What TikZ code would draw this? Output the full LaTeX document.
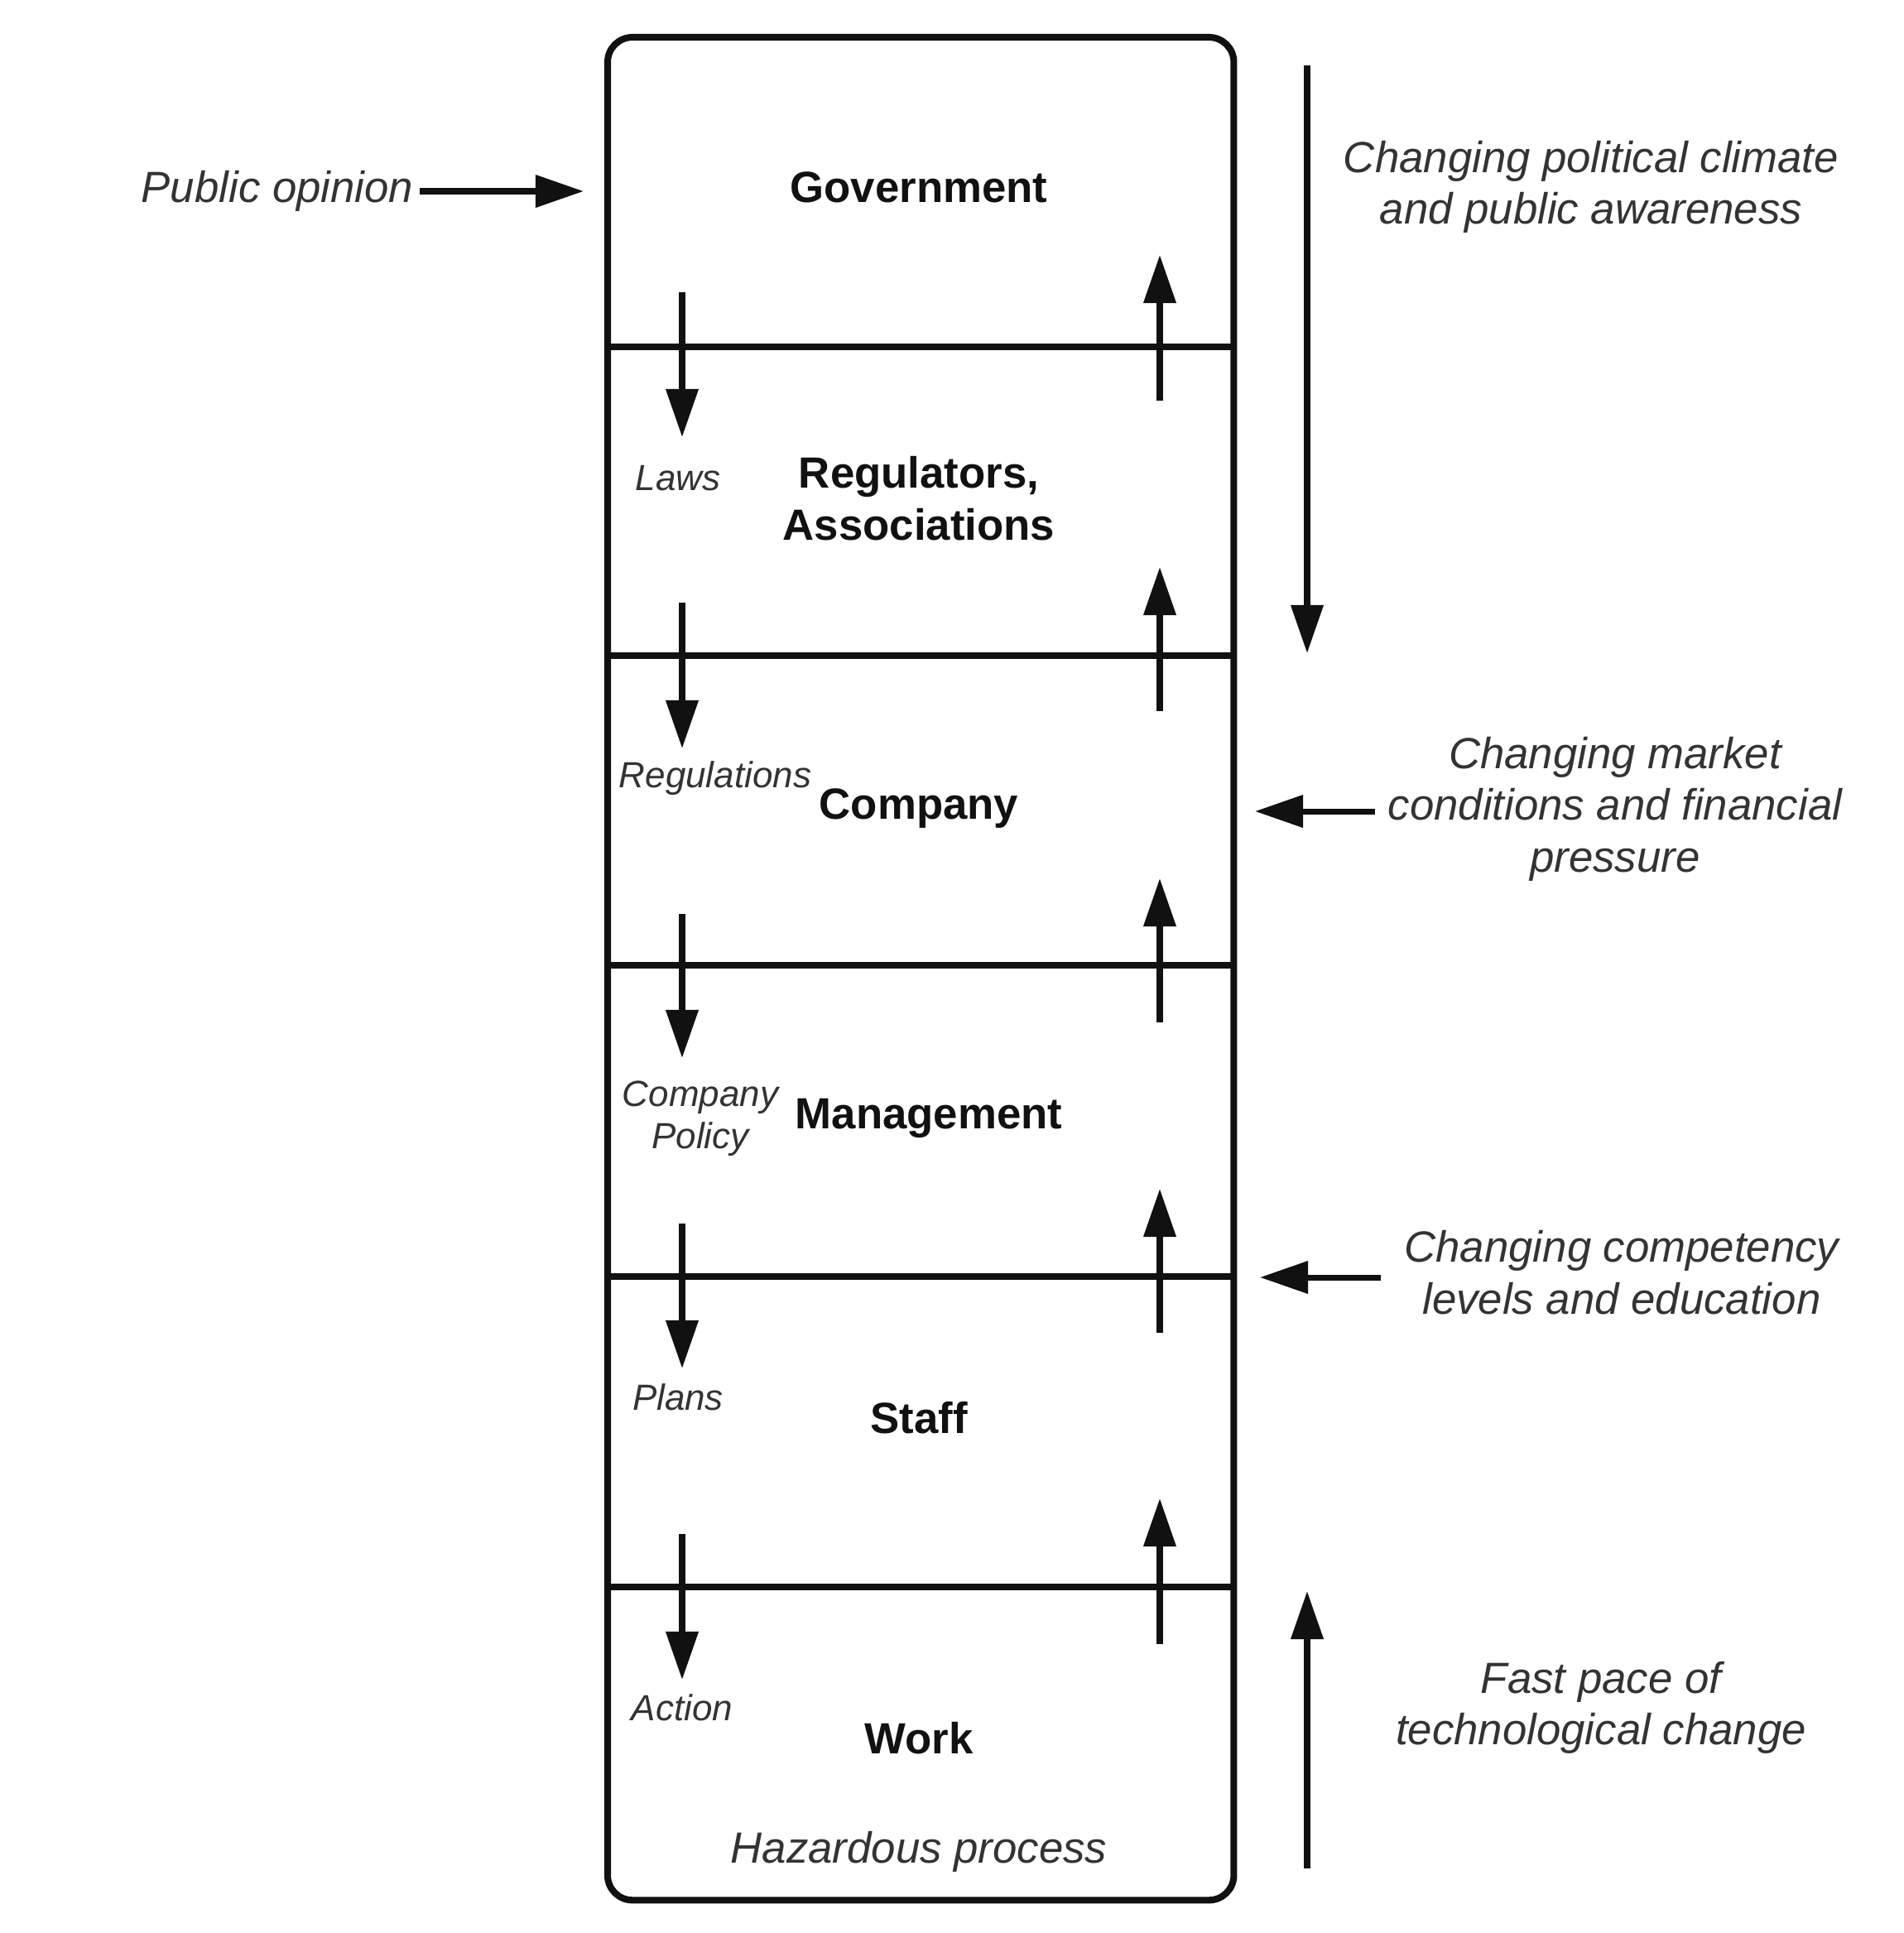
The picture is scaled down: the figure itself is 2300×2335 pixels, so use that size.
\documentclass[tikz,border=0pt]{standalone}
\usepackage{fontspec}
\setmainfont{Liberation Sans}
\usetikzlibrary{arrows.meta}
\definecolor{lbl}{HTML}{333333}
\definecolor{ink}{HTML}{111111}
\begin{document}
\begin{tikzpicture}[x=0.01cm,y=-0.01cm,
  layer/.style={font=\fontsize{15}{17.8}\selectfont\bfseries, align=center, text=ink},
  side/.style={font=\fontsize{15}{17.8}\selectfont\itshape, align=center, text=lbl},
  small/.style={font=\fontsize{12.5}{14.5}\selectfont\itshape, align=center, text=lbl},
  arr/.style={line width=2pt, draw=ink, -{Triangle[length=0.58cm,width=0.38cm]}},
  frame/.style={line width=2.3pt, draw=ink}]
\useasboundingbox (0,0) rectangle (2300,2335);
\fill[white] (0,0) rectangle (2300,2335);

% outer box
\node[frame, rounded corners=0.3cm, minimum width=7.56cm, minimum height=22.49cm,
      anchor=north west, inner sep=0pt, outer sep=0pt] (box) at (734,45) {};

% dividers
\foreach \y [count=\i] in {419,792,1166,1542,1917} {
  \coordinate (dl\i) at (734,\y);
  \coordinate (dr\i) at (1490,\y);
  \draw[frame] (dl\i) -- (dr\i);
}

% downward arrows (left column)
\foreach \a/\b [count=\i] in {353/528,728/904,1104/1278,1478/1653,1853/2029} {
  \coordinate (ds\i) at (824,\a);
  \coordinate (de\i) at (824,\b);
  \draw[arr] (ds\i) -- (de\i);
}
% upward arrows (right column)
\foreach \a/\b [count=\i] in {484/308,859/685,1235/1061,1610/1436,1986/1810} {
  \coordinate (us\i) at (1401,\a);
  \coordinate (ue\i) at (1401,\b);
  \draw[arr] (us\i) -- (ue\i);
}

% layer labels
\node[layer] (gov) at (1110,226) {Government};
\node[layer] (reg) at (1110,602) {Regulators,\\Associations};
\node[layer] (com) at (1110,977) {Company};
\node[layer] (man) at (1122,1351) {Management};
\node[layer] (sta) at (1110,1713) {Staff};
\node[layer] (wor) at (1110,2100) {Work};
\node[side] (haz) at (1110,2237) {Hazardous process};

% flow labels
\node[small] (laws) at (819,578) {Laws};
\node[small] (regs) at (864,940) {Regulations};
\node[small] (pol) at (846,1351) {Company\\Policy};
\node[small] (pla) at (819,1688) {Plans};
\node[small] (act) at (824,2063) {Action};

% public opinion
\node[side, inner sep=2pt] (po) at (335,231) {Public opinion};
\coordinate (poe) at (705,231);
\draw[arr] (po) -- (poe);

% right side pressures
\node[side] (polit) at (1922,226) {Changing political climate\\and public awareness};
\coordinate (pa1) at (1579,79);
\coordinate (pa2) at (1579,789);
\draw[arr] (pa1) -- (pa2);

\node[side] (mkt) at (1951,977) {Changing market\\conditions and financial\\pressure};
\coordinate (ma1) at (1661,980);
\coordinate (ma2) at (1516,980);
\draw[arr] (ma1) -- (ma2);

\node[side] (cmp) at (1959,1537) {Changing competency\\levels and education};
\coordinate (ca1) at (1668,1543);
\coordinate (ca2) at (1522,1543);
\draw[arr] (ca1) -- (ca2);

\node[side] (tech) at (1934,2063) {Fast pace of\\technological change};
\coordinate (ta1) at (1579,2257);
\coordinate (ta2) at (1579,1922);
\draw[arr] (ta1) -- (ta2);
\end{tikzpicture}
\end{document}
